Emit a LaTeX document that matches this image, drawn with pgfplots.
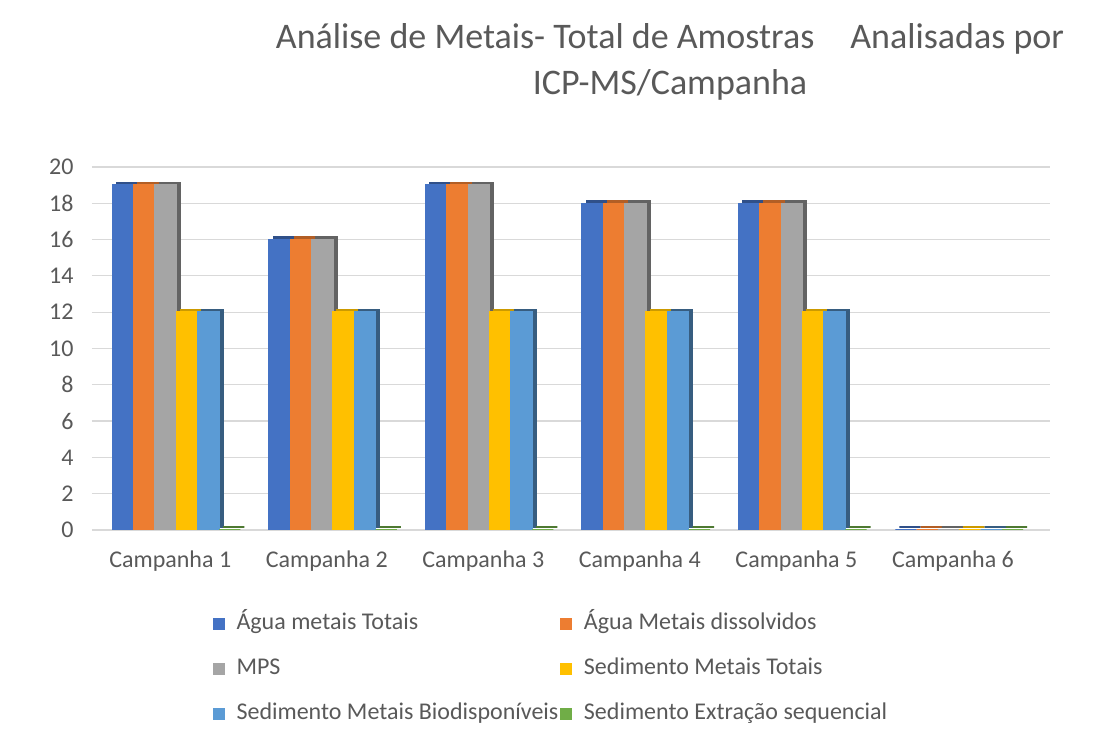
\documentclass[border=0pt]{standalone}
\usepackage{pgfplots}
\pgfplotsset{compat=1.18}
\usepackage{fontspec}
\setmainfont{Carlito}
\definecolor{cblue}{HTML}{4472C4}
\definecolor{corange}{HTML}{ED7D31}
\definecolor{cgray}{HTML}{A5A5A5}
\definecolor{cyellow}{HTML}{FFC000}
\definecolor{clblue}{HTML}{5B9BD5}
\definecolor{cgreen}{HTML}{70AD47}
\definecolor{txt}{HTML}{595959}
\definecolor{gridc}{HTML}{D9D9D9}
\pgfplotstableread{
x a b c d e f
0 19 19 19 12 12 0
1 16 16 16 12 12 0
2 19 19 19 12 12 0
3 18 18 18 12 12 0
4 18 18 18 12 12 0
5 0 0 0 0 0 0
}\data
\begin{document}
\begin{tikzpicture}[x=1pt,y=1pt]
\path[use as bounding box] (0,0) rectangle (1101,744);
\node[text=txt, font=\fontsize{36}{46}\selectfont, align=center, anchor=north] at (670,724) {Análise de Metais- Total de Amostras\quad Analisadas por\\ICP-MS/Campanha};
\begin{axis}[
  at={(92pt,214pt)}, anchor=south west,
  scale only axis, width=958pt, height=363pt,
  xmin=-0.5, xmax=5.62, ymin=0, ymax=20,
  ytick={0,2,...,20},
  xtick={0,...,5},
  xticklabels={Campanha 1,Campanha 2,Campanha 3,Campanha 4,Campanha 5,Campanha 6},
  axis line style={draw=none},
  major tick length=0pt,
  ymajorgrids, xmajorgrids=false, grid style={gridc, line width=1.2pt},
  tick label style={text=txt, font=\fontsize{24}{28}\selectfont},
  /pgf/number format/assume math mode=true,
  yticklabel style={xshift=-15pt},
  xticklabel style={yshift=-17pt},
  ybar, bar width=21.3pt,
  legend columns=2,
  legend cell align=left,
  legend style={at={(0.123,-0.222)}, anchor=north west, draw=none, fill=none,
    font=\fontsize{24}{28}\selectfont, text=txt,
    nodes={anchor=west, inner sep=0pt, text height=17pt, text depth=5pt},
    /tikz/every odd column/.append style={column sep=12pt},
    /tikz/every even column/.append style={column sep=2pt},
    row sep=23pt},
  legend image code/.code={\fill[#1] (0pt,-5pt) rectangle (10pt,5pt);},
]
\draw[gridc, line width=1.2pt] (rel axis cs:0,0) -- (rel axis cs:1,0);
% depth (3D side/top) copies
\addplot[forget plot, fill=cblue!70!black, draw=cblue!70!black, line width=1.2pt, bar shift=-43pt, yshift=3pt] table[x=x,y=a] {\data};
\addplot[forget plot, fill=corange!75!black, draw=corange!75!black, line width=1.2pt, bar shift=-21.7pt, yshift=3pt] table[x=x,y=b] {\data};
\addplot[forget plot, fill=cgray!60!black, draw=cgray!60!black, line width=1.2pt, bar shift=-0.4pt, yshift=3pt] table[x=x,y=c] {\data};
\addplot[forget plot, fill=cyellow!80!black, draw=cyellow!80!black, line width=1.2pt, bar shift=20.9pt, yshift=3pt] table[x=x,y=d] {\data};
\addplot[forget plot, fill=clblue!60!black, draw=clblue!60!black, line width=1.2pt, bar shift=42.2pt, yshift=3pt] table[x=x,y=e] {\data};
\addplot[forget plot, fill=cgreen!70!black, draw=cgreen!70!black, line width=1.2pt, bar shift=63.5pt, yshift=3pt] table[x=x,y=f] {\data};
% front faces
\addplot[fill=cblue, draw=cblue, line width=1.5pt, bar shift=-47pt] table[x=x,y=a] {\data};
\addplot[fill=corange, draw=corange, line width=1.5pt, bar shift=-25.7pt] table[x=x,y=b] {\data};
\addplot[fill=cgray, draw=cgray, line width=1.5pt, bar shift=-4.4pt] table[x=x,y=c] {\data};
\addplot[fill=cyellow, draw=cyellow, line width=1.5pt, bar shift=16.9pt] table[x=x,y=d] {\data};
\addplot[fill=clblue, draw=clblue, line width=1.5pt, bar shift=38.2pt] table[x=x,y=e] {\data};
\addplot[fill=cgreen, draw=cgreen, line width=1.5pt, bar shift=59.5pt] table[x=x,y=f] {\data};
\legend{Água metais Totais, Água Metais dissolvidos, MPS, Sedimento Metais Totais, Sedimento Metais Biodisponíveis, Sedimento Extração sequencial}
\end{axis}
\end{tikzpicture}
\end{document}
